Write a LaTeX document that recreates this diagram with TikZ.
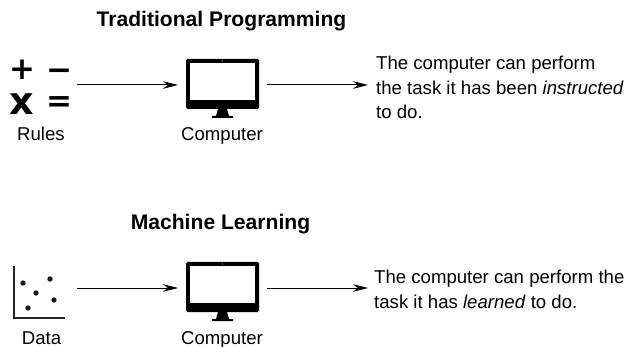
\documentclass[tikz,border=0pt]{standalone}
\usepackage{fontspec}
\setmainfont{Liberation Sans}
\newfontfamily\symfont{DejaVu Sans}
\usetikzlibrary{arrows.meta}
\newlength{\du}
\setlength{\du}{1pt}
\tikzset{
  txt/.style={inner sep=0pt,font=\fontsize{18.6}{24.5}\selectfont},
  lbl/.style={txt,anchor=base},
  ttl/.style={inner sep=0pt,font=\fontsize{21.1}{25}\selectfont\bfseries},
  sym/.style={inner sep=0pt,font=\symfont\fontsize{31}{31}\selectfont\bfseries},
  arr/.style={-{Stealth[length=15pt,width=7.5pt]},line width=1pt},
  dot/.style={circle,fill=black!90,inner sep=0pt,minimum size=5.4pt},
}
\newcommand{\monitor}[1]{%
  \fill[black,rounded corners=1.5pt] (186\du,#1\du) rectangle (259\du,#1\du+50\du);
  \fill[white] (190\du,#1\du+4\du) rectangle (255\du,#1\du+41\du);
  \fill[white] (222.3\du,#1\du+2\du) circle (0.5\du);
  \fill[black] (218\du,#1\du+50\du)--(227\du,#1\du+50\du)--(229\du,#1\du+57\du)--(233\du,#1\du+57\du)--(233\du,#1\du+59\du)--(212\du,#1\du+59\du)--(212\du,#1\du+57\du)--(216\du,#1\du+57\du)--cycle;
}
\begin{document}
\begin{tikzpicture}[yscale=-1]
\useasboundingbox (0\du,0\du) rectangle (626\du,347\du);
% upper row
\node[ttl,anchor=center] (title1) at (221.5\du,21\du){Traditional Programming};
\node[sym] (plus) at (22\du,69.5\du){+};
\node[sym] (minus) at (59\du,74.5\du){−};
\node[sym,font=\symfont\fontsize{38}{38}\selectfont\bfseries] (times) at (21.5\du,104\du){x};
\node[sym] (equal) at (59\du,104\du){=};
\node[lbl] (rules) at (41\du,141\du){Rules};
\monitor{59}
\node[lbl] (comp1) at (222\du,141\du){Computer};
\node[txt,anchor=west,align=left] (out1) at (376\du,87.5\du){The computer can perform\\the task it has been \textit{instructed}\\to do.};
\coordinate (rules1) at (77\du,85\du);
\coordinate (in1) at (178\du,85\du);
\coordinate (from1) at (267\du,85\du);
\coordinate (to1) at (368\du,85\du);
\draw[arr] (rules1)--(in1);
\draw[arr] (from1)--(to1);
% lower row
\node[ttl,anchor=center] (title2) at (220.5\du,224\du){Machine Learning};
\draw[line width=1.2pt,black!85] (14\du,266\du)--(14\du,318\du)--(65\du,318\du);
\node[dot] (d1) at (23\du,283\du){};
\node[dot] (d2) at (50\du,279\du){};
\node[dot] (d3) at (36\du,293\du){};
\node[dot] (d4) at (54\du,300\du){};
\node[dot] (d5) at (28\du,308\du){};
\node[lbl] (data) at (41.5\du,344\du){Data};
\monitor{262}
\node[lbl] (comp2) at (222\du,344\du){Computer};
\node[txt,anchor=west,align=left] (out2) at (374\du,289.5\du){The computer can perform the\\task it has \textit{learned} to do.};
\coordinate (data1) at (77\du,288\du);
\coordinate (in2) at (178\du,288\du);
\coordinate (from2) at (267\du,288\du);
\coordinate (to2) at (368\du,288\du);
\draw[arr] (data1)--(in2);
\draw[arr] (from2)--(to2);
\end{tikzpicture}
\end{document}
